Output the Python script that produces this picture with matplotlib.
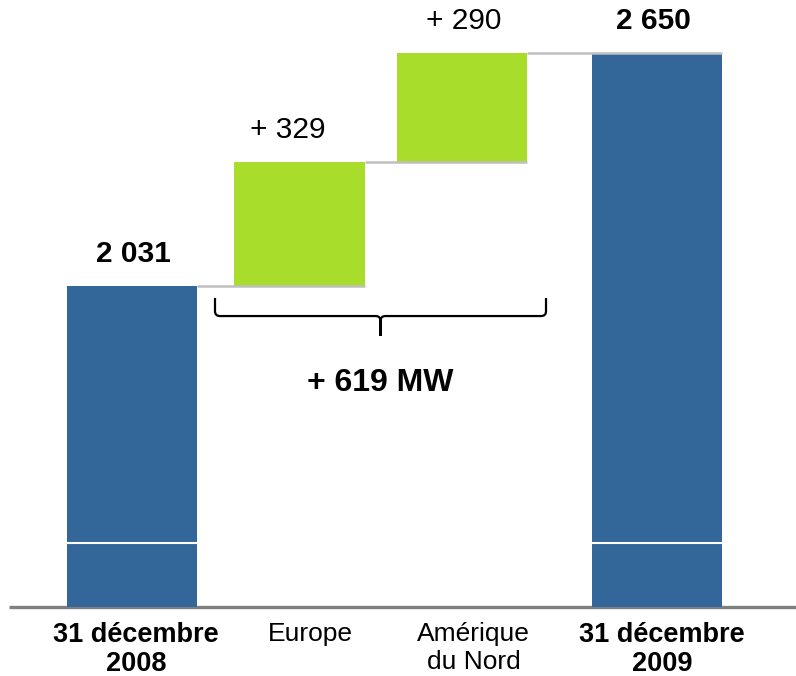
import matplotlib.pyplot as plt
from matplotlib.path import Path
from matplotlib.patches import PathPatch

plt.rcParams['font.family'] = ['Liberation Sans', 'DejaVu Sans']

# data
categories = ["31 décembre\n2008", "Europe", "Amérique\ndu Nord", "31 décembre\n2009"]
start_total = 2031
increments = [329, 290]
end_total = 2650
value_labels = ["2 031", "+ 329", "+ 290", "2 650"]
brace_label = "+ 619 MW"

# layout
positions = [0, 1.015, 2.0, 3.182]
width = 0.79
axis_floor = 1178
break_level = 1348
blue = "#336699"
green = "#A8DD2C"
label_shift = [3, 8, 8.5, 3.5]      # points, category labels sit a bit right
value_shift = [1, -8.5, 1.5, -2.5]  # points

# waterfall pieces
lower = [axis_floor]
heights = [start_total - axis_floor]
tops = [start_total]
cum = start_total
for inc in increments:
    lower.append(cum)
    heights.append(inc)
    cum += inc
    tops.append(cum)
lower.append(axis_floor)
heights.append(end_total - axis_floor)
tops.append(end_total)
colors = [blue, green, green, blue]
is_total = [True, False, False, True]

fig = plt.figure(figsize=(7.96, 6.76), dpi=100)
ax = fig.add_axes([0, 69 / 676, 1, 607 / 676])
ax.set_xlim(-0.8, 4.024)
ax.set_ylim(axis_floor, axis_floor + 607 / 0.3764)

ax.bar(positions, heights, width, bottom=lower, color=colors, zorder=2)

# baseline
ax.plot([-0.745, 4.1], [axis_floor, axis_floor], color="#808080", lw=2.4,
        clip_on=False, zorder=1, solid_capstyle='butt')

# connectors
for i in range(1, len(positions)):
    ax.plot([positions[i - 1] + width / 2, positions[i] + width / 2],
            [tops[i - 1], tops[i - 1]], color="#BFBFBF", lw=1.8, zorder=3,
            solid_capstyle='butt')

# break marks on the total bars
for i in range(len(positions)):
    if is_total[i]:
        ax.plot([positions[i] - width / 2, positions[i] + width / 2],
                [break_level, break_level], color="white", lw=1.5, zorder=4)

# value labels
for i, lab in enumerate(value_labels):
    ax.annotate(lab, (positions[i], tops[i]), xytext=(value_shift[i], 13),
                textcoords='offset points', ha='center', va='bottom',
                fontsize=21.5, fontweight='bold' if is_total[i] else 'normal')

# brace under the increments
xl, xr = 0.503, 2.509
xm = (xl + xr) / 2
ytop, yh, ytip = start_total - 32, start_total - 80, start_total - 133
dx, dy = 0.03, 13
verts, codes = [], []
for xs, sgn in [(xl, 1), (xr, -1)]:
    verts += [(xs, ytop), (xs, yh + dy), (xs, yh), (xs + sgn * dx, yh),
              (xm - sgn * dx, yh), (xm, yh), (xm, yh - dy), (xm, ytip)]
    codes += [Path.MOVETO, Path.LINETO, Path.CURVE3, Path.CURVE3,
              Path.LINETO, Path.CURVE3, Path.CURVE3, Path.LINETO]
ax.add_patch(PathPatch(Path(verts, codes), fill=False, lw=1.6, color='black',
                       capstyle='butt'))
ax.text(xm, 1773, brace_label, ha='center', va='center', fontsize=23,
        fontweight='bold')

# category labels
for i, cat in enumerate(categories):
    if is_total[i]:
        kw = dict(fontsize=19.5, fontweight='bold', linespacing=1.16)
    else:
        kw = dict(fontsize=19, linespacing=1.2)
    ax.annotate(cat, (positions[i], 0), xycoords=('data', 'axes fraction'),
                xytext=(label_shift[i], -11), textcoords='offset points',
                ha='center', va='top', multialignment='center',
                annotation_clip=False, **kw)

ax.set_xticks([])
ax.set_yticks([])
for s in ax.spines.values():
    s.set_visible(False)

plt.savefig('out.png', dpi=100)
